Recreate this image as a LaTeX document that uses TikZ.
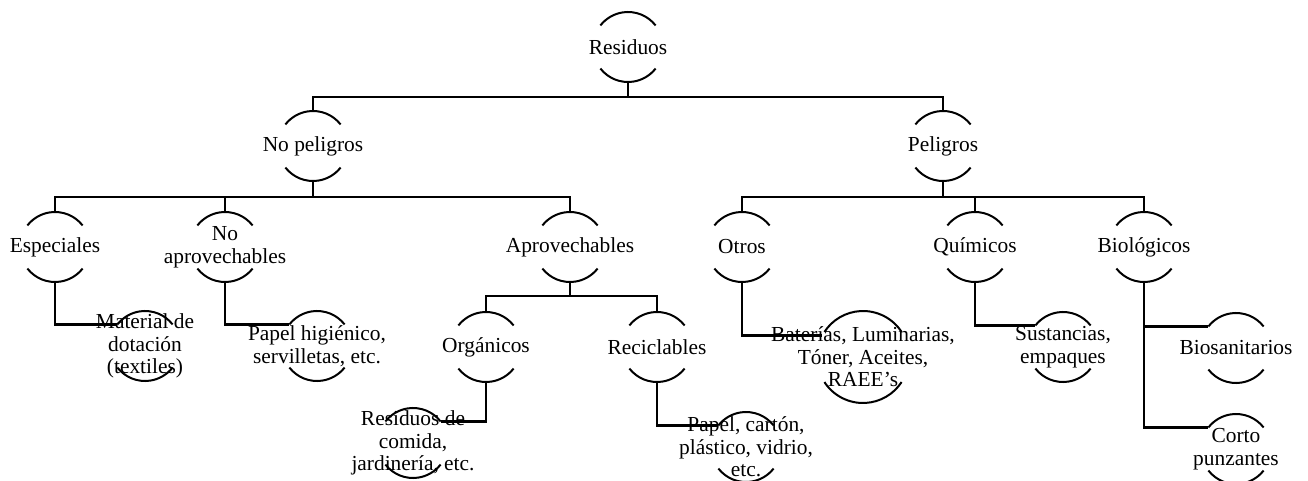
\documentclass[tikz,border=0pt]{standalone}
\usepackage{fontspec}
\setmainfont{Liberation Serif}
\usepackage{tikz}
\usetikzlibrary{positioning,calc}

\begin{document}
\begin{tikzpicture}[
        x=0.5pt, y=-0.5pt,
        ring/.style={circle, minimum size=35pt, inner sep=0pt, outer sep=0pt},
        bigring/.style={ring, minimum size=46pt},
        lbl/.style={align=center, inner sep=0pt, font=\fontsize{10.7}{11.3}\selectfont},
        wire/.style={line width=1.3pt},
        rim/.style={line width=1pt}
    ]
        \useasboundingbox (0,0) rectangle (1308,481);

        % levels 0 and 1
        \node[ring, label={[lbl]center:Residuos}] (res) at (628,47) {};
        \node[ring, label={[lbl]center:No peligros}] (nop) at (313,146) {};
        \node[ring, label={[lbl]center:Peligros}] (pel) at (943,146) {};

        % level 2
        \node[ring, label={[lbl]center:Especiales}] (esp) at (55,247) {};
        \node[ring, label={[lbl]center:{No\\aprovechables}}] (noap) at (225,247) {};
        \node[ring, label={[lbl]center:Aprovechables}] (apr) at (570,247) {};
        \node[ring, label={[lbl]center:Otros}] (otr) at (742,247) {};
        \node[ring, label={[lbl]center:Químicos}] (qui) at (975,247) {};
        \node[ring, label={[lbl]center:Biológicos}] (bio) at (1144,247) {};

        % level 3
        \node[ring, label={[lbl]center:Orgánicos}] (org) at (486,347) {};
        \node[ring, label={[lbl]center:Reciclables}] (rec) at (657,347) {};
        \node[ring, label={[lbl]center:{Material de\\dotación\\(textiles)}}] (mat) at (145,346) {};
        \node[ring, label={[lbl]center:{Papel higiénico,\\servilletas, etc.}}] (pap) at (317,346) {};
        \node[bigring, label={[lbl]center:{Baterías, Luminarias,\\Tóner, Aceites,\\RAEE's}}] (bat) at (863,357) {};
        \node[ring, label={[lbl]center:{Sustancias,\\empaques}}] (sus) at (1063,347) {};
        \node[ring, label={[lbl]center:Biosanitarios}] (bsa) at (1236,348) {};

        % level 4
        \node[ring, label={[lbl]center:{Residuos de\\comida,\\jardinería, etc.}}] (com) at (413,443) {};
        \node[ring, label={[lbl]center:{Papel, cartón,\\plástico, vidrio,\\etc.}}] (pcv) at (746,447) {};
        \node[ring, label={[lbl]center:{Corto\\punzantes}}] (cor) at (1236,449) {};

        % open rings
        \foreach \n/\r/\a in {res/17.5/38, nop/17.5/38, pel/17.5/38, esp/17.5/38, noap/17.5/38,
                apr/17.5/38, otr/17.5/38, qui/17.5/38, bio/17.5/38, org/17.5/38, rec/17.5/38,
                mat/17.5/38, pap/17.5/38, bat/23/33, sus/17.5/38, bsa/17.5/38,
                com/17.5/38, pcv/17.5/38, cor/17.5/38} {
            \draw[rim] (\n.\a) arc[start angle=\a, end angle=180-\a, radius=\r pt];
            \draw[rim] (\n.180+\a) arc[start angle=180+\a, end angle=360-\a, radius=\r pt];
        }

        % branches
        \draw[wire] (res.south) -- ++(0,15) -| (nop.north);
        \draw[wire] (res.south) -- ++(0,15) -| (pel.north);
        \draw[wire] (nop.south) -- ++(0,16) -| (esp.north);
        \draw[wire] (nop.south) -- ++(0,16) -| (noap.north);
        \draw[wire] (nop.south) -- ++(0,16) -| (apr.north);
        \draw[wire] (pel.south) -- ++(0,16) -| (otr.north);
        \draw[wire] (pel.south) -- ++(0,16) -| (qui.north);
        \draw[wire] (pel.south) -- ++(0,16) -| (bio.north);
        \draw[wire] (apr.south) -- ++(0,14) -| (org.north);
        \draw[wire] (apr.south) -- ++(0,14) -| (rec.north);

        % leaves
        \draw[wire] (esp.south) |- (mat.142);
        \draw[wire] (noap.south) |- (pap.142);
        \draw[wire] (org.south) |- (com.38);
        \draw[wire] (rec.south) |- (pcv.142);
        \draw[wire] (otr.south) |- (bat.152);
        \draw[wire] (qui.south) |- (sus.142);
        \draw[wire] (bio.south) |- (bsa.142);
        \draw[wire] (bio.south) |- (cor.142);
    \end{tikzpicture}
\end{document}
